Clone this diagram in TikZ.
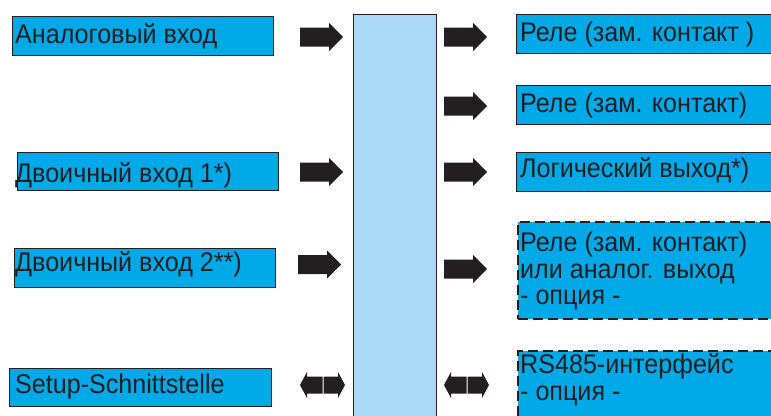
\documentclass[tikz,border=0pt]{standalone}
\usepackage{fontspec}
\setmainfont[FakeStretch=0.93]{Liberation Sans}
\definecolor{boxblue}{HTML}{00A9E7}
\definecolor{coreblue}{HTML}{AAD8F7}
\definecolor{ink}{HTML}{231F20}
\begin{document}
\begin{tikzpicture}[x=1pt,y=-1pt,
  lbox/.style={draw=ink,fill=boxblue,line width=1.3pt,inner sep=0pt,anchor=north west},
  obox/.style={lbox,line width=1.8pt,dash pattern=on 10pt off 5pt},
  lbl/.style={inner sep=0pt,anchor=base west,text=ink,font=\fontsize{27}{27}\selectfont},
  rarrow/.pic={\fill[ink] (0,-9.5) -- (29,-9.5) -- (29,-14) -- (43,0) -- (29,14) -- (29,9.5) -- (0,9.5) -- cycle;},
  darrow/.pic={\fill[ink] (0,0) -- (7,-13) -- (7,-8.5) -- (22.5,-8.5) -- (22.5,8.5) -- (7,8.5) -- (7,13) -- cycle;
               \fill[ink] (23.5,-8.5) -- (38,-8.5) -- (38,-13) -- (45,0) -- (38,13) -- (38,8.5) -- (23.5,8.5) -- cycle;}]
\useasboundingbox (0,0) rectangle (771,415);
\clip (0,0) rectangle (771,415);
% central block
\node[draw=ink,fill=coreblue,line width=1.3pt,inner sep=0pt,anchor=north west,minimum width=83pt,minimum height=430pt] (core) at (353,14) {};
% left boxes
\node[lbox,minimum width=261pt,minimum height=39pt] (ain) at (12,16) {};
\node[lbox,minimum width=261pt,minimum height=38pt] (bin1) at (17,152) {};
\node[lbox,minimum width=261pt,minimum height=39pt] (bin2) at (14,248) {};
\node[lbox,minimum width=262pt,minimum height=38pt] (setup) at (9,368) {};
% right boxes
\node[lbox,minimum width=280pt,minimum height=39pt] (r1) at (516,14) {};
\node[lbox,minimum width=280pt,minimum height=39pt] (r2) at (516,85) {};
\node[lbox,minimum width=280pt,minimum height=39pt] (r3) at (516,152) {};
\node[obox,minimum width=280pt,minimum height=97pt] (r4) at (517,221) {};
\node[obox,minimum width=280pt,minimum height=90pt] (r5) at (517,350) {};
% texts
\node[lbl] (tain) at (15,43) {Аналоговый вход};
\node[lbl] (tbin1) at (15,182) {Двоичный вход 1*)};
\node[lbl] (tbin2) at (15,271) {Двоичный вход 2**)};
\node[lbl] (tsetup) at (15,393) {Setup-Schnittstelle};
\node[lbl] (tr1) at (520,41) {Реле (зам. контакт )};
\node[lbl] (tr2) at (520,112) {Реле (зам. контакт)};
\node[lbl] (tr3) at (520,177) {Логический выход*)};
\node[lbl] (tr4a) at (520,251) {Реле (зам. контакт)};
\node[lbl] (tr4b) at (520,278) {или аналог. выход};
\node[lbl] (tr4c) at (520,304) {- опция -};
\node[lbl] (tr5a) at (520,373) {RS485-интерфейс};
\node[lbl] (tr5b) at (520,400) {- опция -};
% arrows
\pic at (300,37) {rarrow};
\pic at (300,172) {rarrow};
\pic at (298,264.5) {rarrow};
\pic at (300,385) {darrow};
\pic at (444,37) {rarrow};
\pic at (444,106) {rarrow};
\pic at (444,172) {rarrow};
\pic at (444,269) {rarrow};
\pic at (444,385) {darrow};
\end{tikzpicture}
\end{document}
